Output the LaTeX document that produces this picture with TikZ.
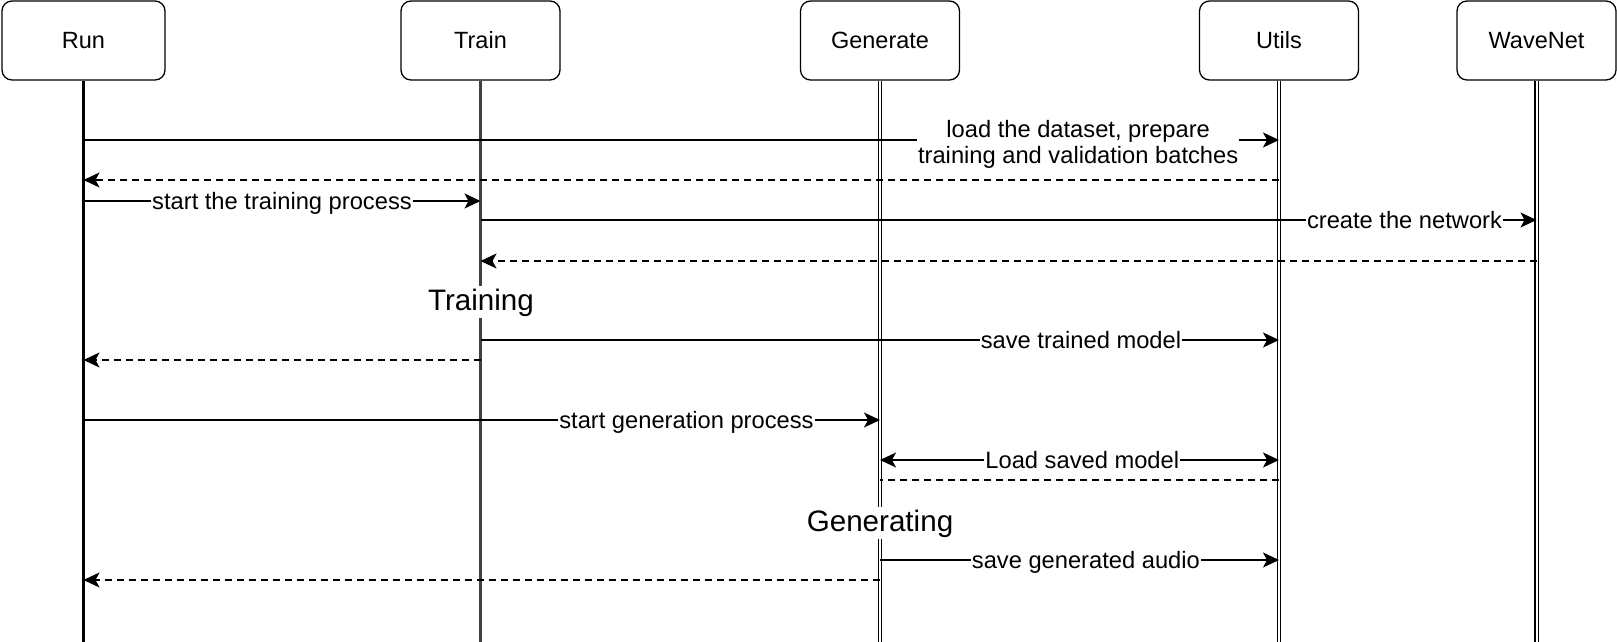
\documentclass[tikz,border=0pt]{standalone}
\usepackage{fontspec}
\setmainfont{Liberation Sans}
\usetikzlibrary{arrows.meta}
\begin{document}
\begin{tikzpicture}[x=1pt,y=-1pt,
 tip/.tip={Stealth[length=16pt,width=15pt,inset=4pt]},
 actor/.style={draw, rounded corners=10pt, line width=1.3pt, minimum width=159pt, minimum height=79pt, inner sep=0pt, font=\fontsize{23.5}{27}\selectfont},
 life/.style={double, line width=1.1pt, double distance=2pt},
 lifethick/.style={line width=3.2pt},
 msg/.style={line width=1.5pt, -tip},
 ret/.style={msg, dash pattern=on 7pt off 5pt},
 plainret/.style={line width=1.5pt, dash pattern=on 7pt off 5pt},
 lbl/.style={fill=white, inner sep=1pt, yshift=-2.5pt, text height=17pt, text depth=5pt, font=\fontsize{23.7}{27}\selectfont},
 lbltwo/.style={fill=white, inner sep=1pt, align=center, font=\fontsize{23.7}{26}\selectfont},
 big/.style={fill=white, inner sep=2pt, text height=22pt, text depth=6pt, font=\fontsize{29.6}{33}\selectfont}]
\useasboundingbox (0,0) rectangle (1617,642);
% actors
\node[actor, minimum width=163pt] (run) at (83.5,40.5) {Run};
\node[actor] (train) at (480.5,40.5) {Train};
\node[actor] (gen) at (880,40.5) {Generate};
\node[actor] (utils) at (1279,40.5) {Utils};
\node[actor] (wave) at (1536.5,40.5) {WaveNet};
% lifelines
\draw[lifethick] (run.south) -- (run |- 0,642);
\draw[lifethick, black!75] (train.south) -- (train |- 0,642);
\draw[life] (gen.south) -- (gen |- 0,642);
\draw[life] (utils.south) -- (utils |- 0,642);
\draw[life] (wave.south) -- (wave |- 0,642);
% messages
\draw[msg] (run |- 0,140) -- node[lbltwo, pos=0.832, yshift=-4pt] (l1) {load the dataset, prepare\\training and validation batches} (utils |- 0,140);
\draw[ret] (utils |- 0,180) -- (run |- 0,180);
\draw[msg] (run |- 0,201) -- node[lbl, pos=0.5] (l2) {start the training process} (train |- 0,201);
\draw[msg] (train |- 0,220) -- node[lbl, pos=0.875] (l3) {create the network} (wave |- 0,220);
\draw[ret] (wave |- 0,261) -- (train |- 0,261);
\node[big] (training) at (481,302) {Training};
\draw[msg] (train |- 0,340) -- node[lbl, pos=0.752] (l4) {save trained model} (utils |- 0,340);
\draw[ret] (train |- 0,360) -- (run |- 0,360);
\draw[msg] (run |- 0,420) -- node[lbl, pos=0.757] (l5) {start generation process} (gen |- 0,420);
\draw[msg, tip-tip] (gen |- 0,460) -- node[lbl, pos=0.507] (l6) {Load saved model} (utils |- 0,460);
\draw[plainret] (utils |- 0,480) -- (gen |- 0,480);
\node[big] (generating) at (880,523) {Generating};
\draw[msg] (gen |- 0,560) -- node[lbl, pos=0.516] (l7) {save generated audio} (utils |- 0,560);
\draw[ret] (gen |- 0,580) -- (run |- 0,580);
\end{tikzpicture}
\end{document}
